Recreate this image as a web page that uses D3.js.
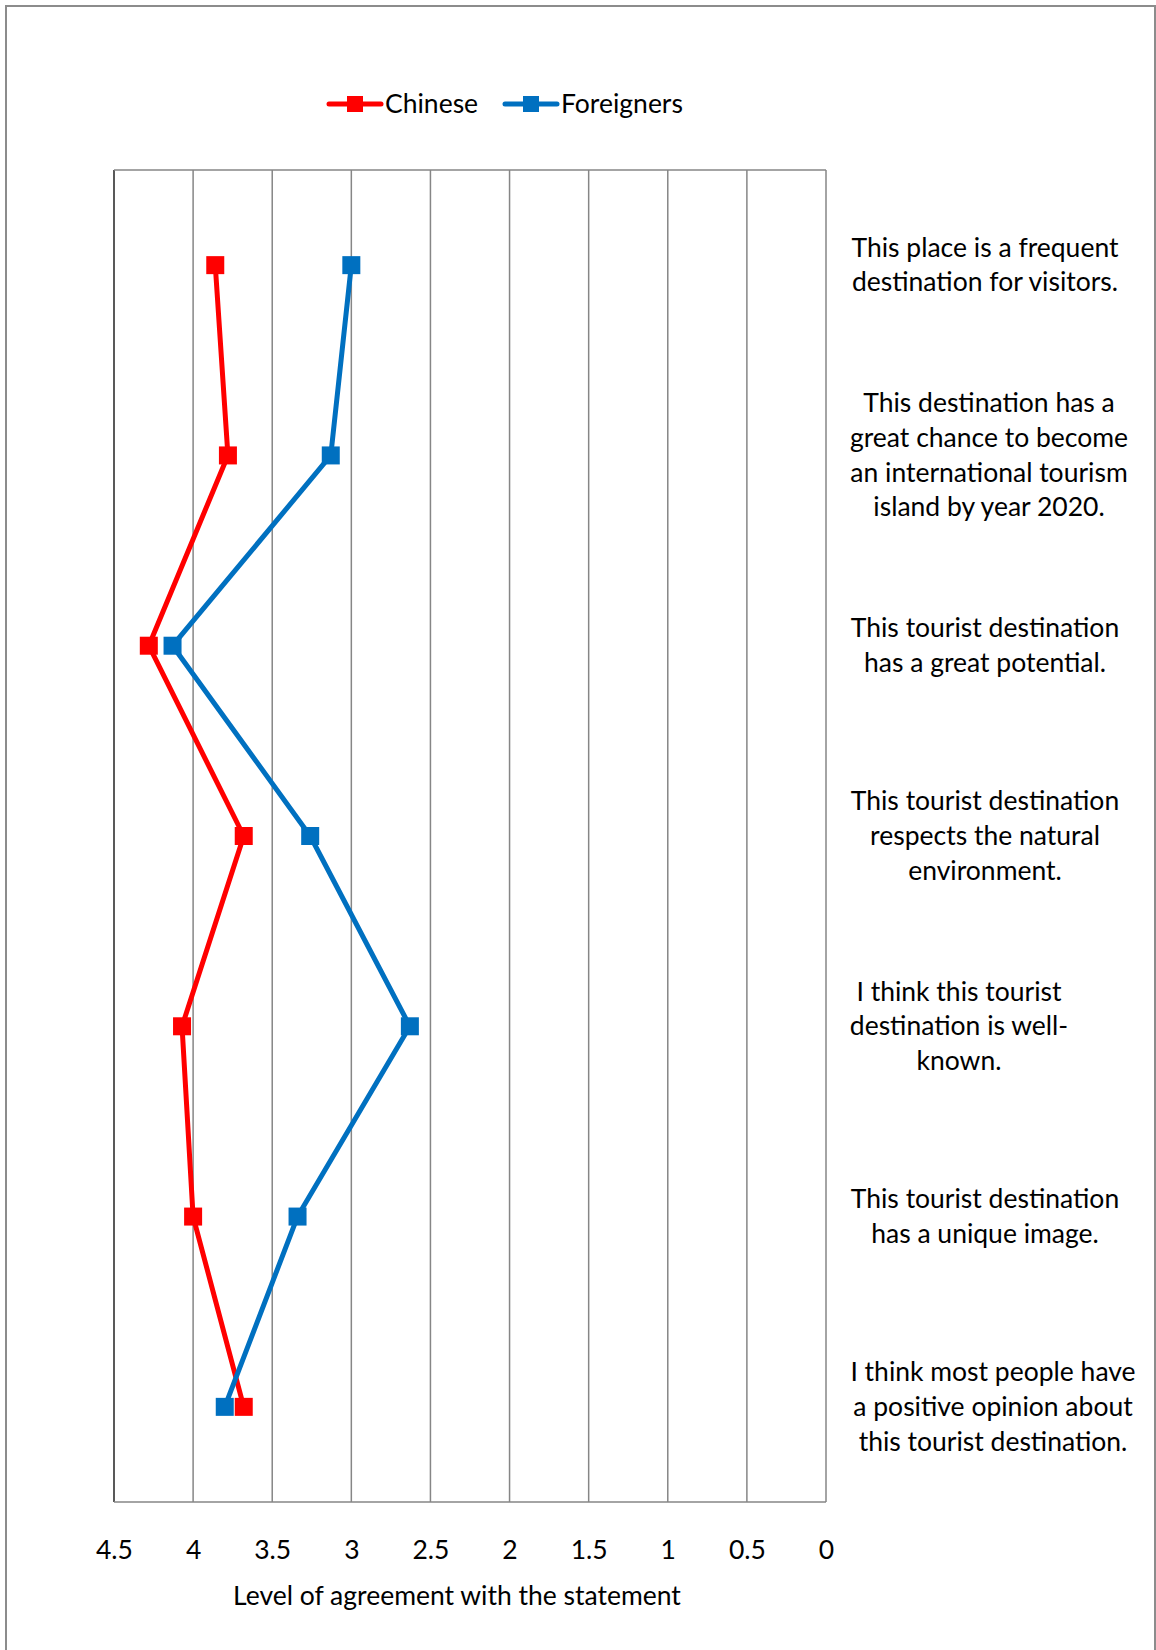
<!DOCTYPE html>
<html>
<head>
<meta charset="utf-8">
<script src="https://cdn.jsdelivr.net/npm/d3@7"></script>
<style>
  html, body { margin: 0; padding: 0; background: #fff; }
  svg { display: block; }
  text { font-family: Lato, "Open Sans", sans-serif; fill: #000; }
</style>
</head>
<body>
<script>
const categories = [
  ["This place is a frequent", "destination for visitors."],
  ["This destination has a", "great chance to become", "an international tourism", "island by year 2020."],
  ["This tourist destination", "has a great potential."],
  ["This tourist destination", "respects the natural", "environment."],
  ["I think this tourist", "destination is well-", "known."],
  ["This tourist destination", "has a unique image."],
  ["I think most people have", "a positive opinion about", "this tourist destination."]
];
const labelCenters = [985, 989, 985, 985, 959, 985, 993];
const chinese = [3.86, 3.78, 4.28, 3.68, 4.07, 4.00, 3.68];
const foreigners = [3.00, 3.13, 4.13, 3.26, 2.63, 3.34, 3.80];
const ticks = [4.5, 4, 3.5, 3, 2.5, 2, 1.5, 1, 0.5, 0];
const seriesNames = ["Chinese", "Foreigners"];
const seriesColors = ["#ff0000", "#0070c0"];

const W = 1156, H = 1650;
const FS = 26.5;
const svg = d3.select("body").append("svg").attr("width", W).attr("height", H);

// outer frame
svg.append("rect").attr("x", 6).attr("y", 6).attr("width", 1149).attr("height", 1700)
  .attr("fill", "none").attr("stroke", "#8c8c8c").attr("stroke-width", 2);

const plot = { left: 114, right: 826, top: 170, bottom: 1502 };
const x = d3.scaleLinear().domain([4.5, 0]).range([plot.left, plot.right]);
const y = d3.scaleBand().domain(d3.range(categories.length)).range([plot.top, plot.bottom]);

// gridlines
svg.append("g").selectAll("line").data(ticks).join("line")
  .attr("x1", d => x(d)).attr("x2", d => x(d))
  .attr("y1", plot.top).attr("y2", plot.bottom)
  .attr("stroke", d => d === 4.5 ? "#595959" : "#868686")
  .attr("stroke-width", d => d === 4.5 ? 2 : 1.5);
svg.append("line").attr("x1", plot.left).attr("x2", plot.right).attr("y1", plot.top).attr("y2", plot.top)
  .attr("stroke", "#868686").attr("stroke-width", 1.5);
svg.append("line").attr("x1", plot.left).attr("x2", plot.right).attr("y1", plot.bottom).attr("y2", plot.bottom)
  .attr("stroke", "#868686").attr("stroke-width", 1.5);

// x axis tick labels
const xAxis = d3.axisBottom(x).tickValues(ticks).tickSize(0).tickPadding(0).tickFormat(d3.format("~g"));
const gx = svg.append("g").attr("transform", `translate(0,${plot.bottom + 57})`).call(xAxis);
gx.select(".domain").remove();
gx.selectAll("text").attr("font-size", FS).attr("font-family", "Lato, sans-serif").attr("fill", "#000").attr("dy", 0);

svg.append("text").attr("x", 457).attr("y", 1605).attr("text-anchor", "middle")
  .attr("font-size", FS).text("Level of agreement with the statement");

// category labels
const cy = i => y(i) + y.bandwidth() / 2;
const lineH = 34.7;
const lab = svg.append("g");
categories.forEach((lines, i) => {
  const t = lab.append("text").attr("text-anchor", "middle").attr("font-size", FS);
  const n = lines.length;
  lines.forEach((ln, j) => {
    t.append("tspan").attr("x", labelCenters[i])
      .attr("y", cy(i) + (j - (n - 1) / 2) * lineH + 9).text(ln);
  });
});

// series
const data = [chinese, foreigners];
const line = d3.line().x(d => x(d[0])).y(d => cy(d[1]));
data.forEach((vals, s) => {
  const pts = vals.map((v, i) => [v, i]);
  svg.append("path").attr("d", line(pts)).attr("fill", "none")
    .attr("stroke", seriesColors[s]).attr("stroke-width", 5).attr("stroke-linejoin", "round");
  svg.append("g").selectAll("rect").data(pts).join("rect")
    .attr("x", d => x(d[0]) - 9).attr("y", d => cy(d[1]) - 9)
    .attr("width", 18).attr("height", 18).attr("fill", seriesColors[s]);
});

// legend
const legendItems = [
  { x0: 329, x1: 381, tx: 385 },
  { x0: 505, x1: 557, tx: 561 }
];
legendItems.forEach((it, s) => {
  const g = svg.append("g");
  g.append("line").attr("x1", it.x0).attr("x2", it.x1).attr("y1", 104).attr("y2", 104)
    .attr("stroke", seriesColors[s]).attr("stroke-width", 5).attr("stroke-linecap", "round");
  g.append("rect").attr("x", (it.x0 + it.x1) / 2 - 8).attr("y", 96).attr("width", 16).attr("height", 16)
    .attr("fill", seriesColors[s]);
  g.append("text").attr("x", it.tx).attr("y", 113).attr("font-size", FS).text(seriesNames[s]);
});
</script>
</body>
</html>
